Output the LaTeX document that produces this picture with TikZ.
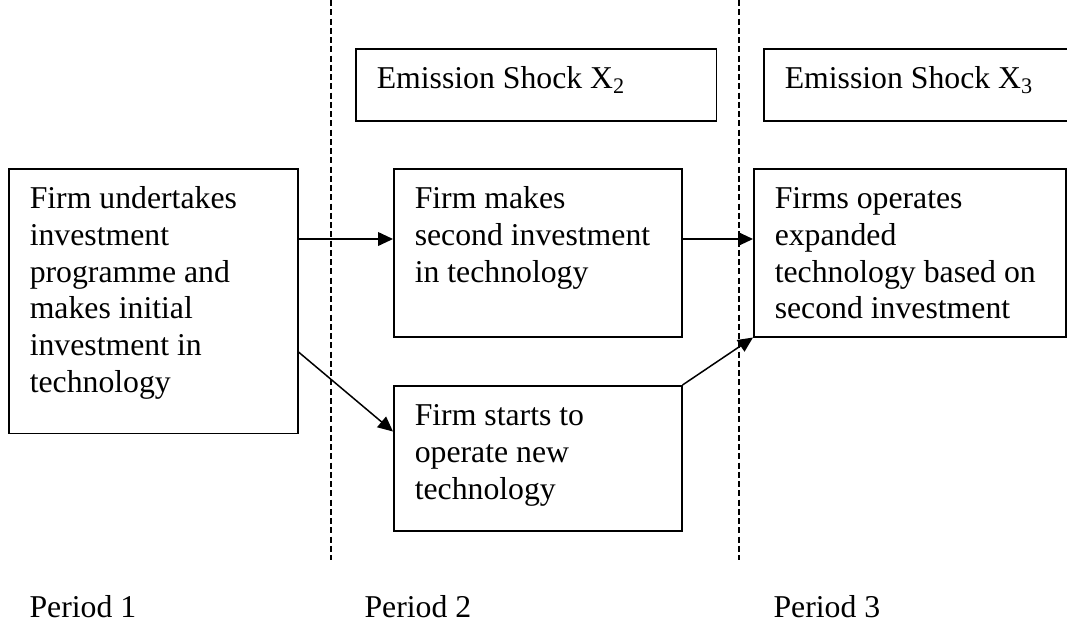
\documentclass[tikz,border=0pt]{standalone}
\usepackage{fontspec}
\setmainfont{Liberation Serif}
\usetikzlibrary{positioning, arrows.meta, calc}

% top aligned text inside a box: width, height, text
\newcommand{\boxtext}[3]{\parbox[t][#2][t]{#1}{\strut #3}}

\begin{document}
\begin{tikzpicture}[
  x=0.4pt, y=-0.4pt,
  every node/.style={font=\fontsize{12.7pt}{14.7pt}\selectfont},
  stagebox/.style={draw, line width=0.6pt, anchor=north west, align=left,
    inner xsep=8.4pt, inner ysep=5.7pt},
  shockbox/.style={stagebox},
  flow/.style={line width=0.6pt, -{Triangle[length=6pt,width=5.5pt]}},
  divider/.style={line width=0.5pt, dash pattern=on 2.4pt off 1.3pt},
  periodlabel/.style={anchor=base west, inner sep=0pt}
]
\useasboundingbox (0,0) rectangle (1067,622);

% period dividers
\coordinate (d1top) at (331,0);
\coordinate (d1bot) at (331,560);
\coordinate (d2top) at (739,0);
\coordinate (d2bot) at (739,560);
\draw[divider] (d1top) -- (d1bot);
\draw[divider] (d2top) -- (d2bot);

% emission shocks
\node[shockbox] (shock2) at (355,48)
  {\boxtext{127.4pt}{17.4pt}{Emission Shock X\textsubscript{2}}};
\node[shockbox] (shock3) at (763,48)
  {\boxtext{150pt}{17.4pt}{Emission Shock X\textsubscript{3}}};

% stages
\node[stagebox] (invest) at (8,168)
  {\boxtext{98.8pt}{94.4pt}{Firm undertakes\\ investment\\ programme and\\ makes initial\\ investment in\\ technology}};
\node[stagebox] (second) at (393,168)
  {\boxtext{98.4pt}{55.8pt}{Firm makes\\ second investment\\ in technology}};
\node[stagebox] (expand) at (753,168)
  {\boxtext{108pt}{55.8pt}{Firms operates\\ expanded\\ technology based on\\ second investment}};
\node[stagebox] (operate) at (393,385)
  {\boxtext{98.4pt}{46.6pt}{Firm starts to\\ operate new\\ technology}};

% connectors
\draw[flow] ([yshift=-28.4pt]invest.north east) -- ([yshift=-28.4pt]second.north west);
\draw[flow] ([yshift=-28.4pt]second.north east) -- ([yshift=-28.4pt]expand.north west);
\draw[flow] ([yshift=-73.6pt]invest.north east) -- ([yshift=-18.6pt]operate.north west);
\draw[flow] (operate.north east) -- (expand.south west);

% periods
\node[periodlabel] (p1) at (29,617) {Period 1};
\node[periodlabel] (p2) at (364,617) {Period 2};
\node[periodlabel] (p3) at (773,617) {Period 3};

\end{tikzpicture}
\end{document}
